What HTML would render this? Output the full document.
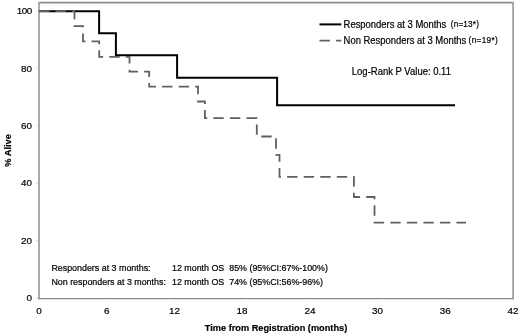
<!DOCTYPE html>
<html><head><meta charset="utf-8"><style>
html,body{margin:0;padding:0;background:#fff;width:520px;height:335px;overflow:hidden}
svg{display:block;font-family:"Liberation Sans",sans-serif;fill:#000;will-change:transform}
text{fill:#000;stroke:#000;stroke-width:0.2px}
</style></head><body>
<svg width="520" height="335" viewBox="0 0 520 335">
<rect x="0" y="0" width="520" height="335" fill="#fff"/>
<path d="M39,2.6 L513.9,2.6" stroke="#8a8a8a" stroke-width="1.6" fill="none"/>
<path d="M513.1,2 L513.1,298.4" stroke="#a2a2a2" stroke-width="1.8" fill="none"/>
<path d="M39,2 L39,299" stroke="#a2a2a2" stroke-width="1.8" fill="none"/>
<path d="M38,298.6 L514,298.6" stroke="#8a8a8a" stroke-width="1.3" fill="none"/>
<line x1="36" x2="38" y1="11.0" y2="11.0" stroke="#ddd" stroke-width="1"/>
<text x="31.7" y="14.1" text-anchor="end" font-size="9.9" letter-spacing="-0.5">100</text>
<line x1="36" x2="38" y1="68.4" y2="68.4" stroke="#ddd" stroke-width="1"/>
<text x="32" y="71.5" text-anchor="end" font-size="9.9">80</text>
<line x1="36" x2="38" y1="125.8" y2="125.8" stroke="#ddd" stroke-width="1"/>
<text x="32" y="128.9" text-anchor="end" font-size="9.9">60</text>
<line x1="36" x2="38" y1="183.3" y2="183.3" stroke="#ddd" stroke-width="1"/>
<text x="32" y="186.4" text-anchor="end" font-size="9.9">40</text>
<line x1="36" x2="38" y1="240.7" y2="240.7" stroke="#ddd" stroke-width="1"/>
<text x="32" y="243.8" text-anchor="end" font-size="9.9">20</text>
<line x1="36" x2="38" y1="298.2" y2="298.2" stroke="#ddd" stroke-width="1"/>
<text x="32" y="301.3" text-anchor="end" font-size="9.9">0</text>
<line x1="39.0" x2="39.0" y1="299.5" y2="301.5" stroke="#e2e2e2" stroke-width="1"/>
<text x="39.0" y="314.4" text-anchor="middle" font-size="9.9">0</text>
<line x1="106.7" x2="106.7" y1="299.5" y2="301.5" stroke="#e2e2e2" stroke-width="1"/>
<text x="106.7" y="314.4" text-anchor="middle" font-size="9.9">6</text>
<line x1="174.4" x2="174.4" y1="299.5" y2="301.5" stroke="#e2e2e2" stroke-width="1"/>
<text x="174.4" y="314.4" text-anchor="middle" font-size="9.9">12</text>
<line x1="242.1" x2="242.1" y1="299.5" y2="301.5" stroke="#e2e2e2" stroke-width="1"/>
<text x="242.1" y="314.4" text-anchor="middle" font-size="9.9">18</text>
<line x1="309.9" x2="309.9" y1="299.5" y2="301.5" stroke="#e2e2e2" stroke-width="1"/>
<text x="309.9" y="314.4" text-anchor="middle" font-size="9.9">24</text>
<line x1="377.6" x2="377.6" y1="299.5" y2="301.5" stroke="#e2e2e2" stroke-width="1"/>
<text x="377.6" y="314.4" text-anchor="middle" font-size="9.9">30</text>
<line x1="445.3" x2="445.3" y1="299.5" y2="301.5" stroke="#e2e2e2" stroke-width="1"/>
<text x="445.3" y="314.4" text-anchor="middle" font-size="9.9">36</text>
<line x1="513.0" x2="513.0" y1="299.5" y2="301.5" stroke="#e2e2e2" stroke-width="1"/>
<text x="513.0" y="314.4" text-anchor="middle" font-size="9.9">42</text>
<path d="M39,11.2 L99.1,11.2 L99.1,33.3 L115.9,33.3 L115.9,55.3 L177.1,55.3 L177.1,77.7 L277.1,77.7 L277.1,105.3 L455,105.3" stroke="#000" stroke-width="2.0" fill="none" stroke-linejoin="miter"/>
<path d="M39,11.2 L74.5,11.2 L74.5,26.2 L83,26.2 L83,41.4 L99.2,41.4 L99.2,56.8 L129.5,56.8 L129.5,71.6 L149.2,71.6 L149.2,86.7 L198,86.7 L198,101.5 L204.9,101.5 L204.9,118.2 L256.8,118.2 L256.8,136.5 L276,136.5 L276,154.9 L279.5,154.9 L279.5,176.8 L353.9,176.8 L353.9,197 L374.5,197 L374.5,222.6 L466,222.6" stroke="#606060" stroke-width="1.8" fill="none" stroke-dasharray="10.4 6.15"/>
<line x1="319.5" x2="341.3" y1="24.4" y2="24.4" stroke="#000" stroke-width="2.0"/>
<line x1="319.5" x2="341.3" y1="40.7" y2="40.7" stroke="#606060" stroke-width="1.8" stroke-dasharray="10.4 6.15"/>
<text transform="translate(343.6,27.6) scale(0.91,1)" font-size="10.38">Responders at 3 Months</text>
<text transform="translate(450.7,26.7) scale(1.0,1)" font-size="8.2" letter-spacing="0.2">(n=13*)</text>
<text transform="translate(343.6,44.0) scale(0.91,1)" font-size="10.38">Non Responders at 3 Months</text>
<text transform="translate(468.6,43.3) scale(1.0,1)" font-size="8.2" letter-spacing="0.35">(n=19*)</text>
<text transform="translate(351.8,74.8) scale(0.91,1)" font-size="10.44">Log-Rank P Value: 0.11</text>
<text transform="translate(51.4,271.3) scale(1.0,1)" font-size="8.9">Responders at 3 months:</text>
<text transform="translate(51.4,284.9) scale(1.0,1)" font-size="8.9">Non responders at 3 months:</text>
<text transform="translate(172.0,271.3) scale(1.0,1)" font-size="8.9" xml:space="preserve">12 month OS  85% (95%CI:67%-100%)</text>
<text transform="translate(172.0,284.9) scale(1.0,1)" font-size="8.9" xml:space="preserve">12 month OS  74% (95%CI:56%-96%)</text>
<text transform="translate(276,331.1) scale(0.94,1)" font-size="9.79" text-anchor="middle" font-weight="bold">Time from Registration (months)</text>
<text transform="translate(10.5,150.4) rotate(-90) scale(1.0,0.92)" text-anchor="middle" font-size="9.3" font-weight="bold">% Alive</text>
</svg>
</body></html>
